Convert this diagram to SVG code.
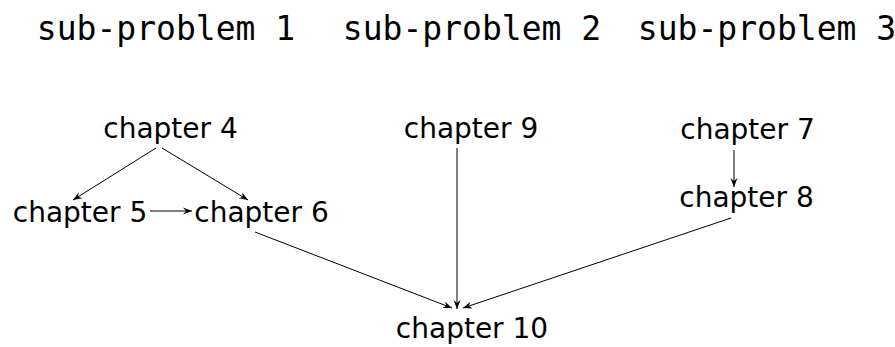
<svg xmlns="http://www.w3.org/2000/svg" width="895" height="347" viewBox="0 0 895 347">
  <defs>
    <style>
      .hdr { font-family: "DejaVu Sans Mono", monospace; font-size: 33px; fill: #000; text-anchor: middle; }
      .lbl { font-family: "DejaVu Sans", sans-serif; font-size: 28px; fill: #000; text-anchor: middle; }
      .edge { stroke: #000; stroke-width: 1; fill: none; marker-end: url(#arrow); }
    </style>
    <marker id="arrow" viewBox="-9 -4 10 8" markerWidth="10" markerHeight="8" refX="0" refY="0" orient="auto" markerUnits="userSpaceOnUse">
      <path d="M0,0 L-9,-3.5 L-6,0 L-9,3.5 Z" fill="#000"/>
    </marker>
  </defs>
  <rect width="895" height="347" fill="#fff"/>

  <!-- column headers -->
  <g id="headers">
    <text class="hdr" x="166" y="40">sub-problem 1</text>
    <text class="hdr" x="472" y="40">sub-problem 2</text>
    <text class="hdr" x="767" y="40">sub-problem 3</text>
  </g>

  <!-- connectors -->
  <g id="edges">
    <line class="edge" x1="156" y1="148" x2="73" y2="200"/>
    <line class="edge" x1="162" y1="148" x2="248" y2="200"/>
    <line class="edge" x1="150" y1="211" x2="192" y2="211"/>
    <line class="edge" x1="457" y1="148" x2="457" y2="309"/>
    <line class="edge" x1="734" y1="150" x2="734" y2="187"/>
    <line class="edge" x1="255" y1="232" x2="452" y2="308"/>
    <line class="edge" x1="731" y1="218" x2="463" y2="308"/>
  </g>

  <!-- chapters -->
  <g id="ch4"><text class="lbl" x="170.5" y="138">chapter 4</text></g>
  <g id="ch5"><text class="lbl" x="80" y="222">chapter 5</text></g>
  <g id="ch6"><text class="lbl" x="261.5" y="222">chapter 6</text></g>
  <g id="ch9"><text class="lbl" x="471" y="138">chapter 9</text></g>
  <g id="ch7"><text class="lbl" x="747.5" y="139">chapter 7</text></g>
  <g id="ch8"><text class="lbl" x="746.5" y="207">chapter 8</text></g>
  <g id="ch10"><text class="lbl" x="472" y="338">chapter 10</text></g>
</svg>
